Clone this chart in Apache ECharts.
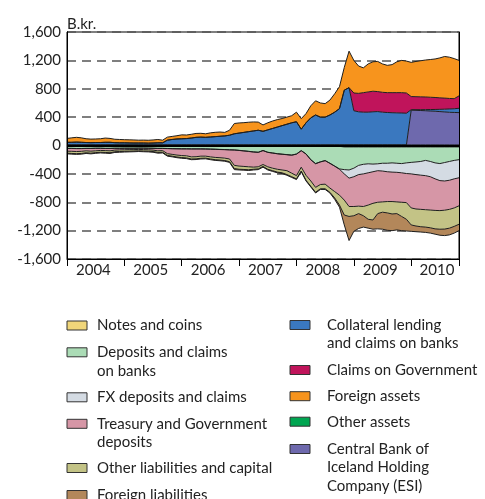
<!DOCTYPE html>
<html><head><meta charset="utf-8">
<script src="https://cdn.jsdelivr.net/npm/echarts@6/dist/echarts.min.js"></script>
<style>html,body{margin:0;padding:0;background:#fff}#c{width:485px;height:499px}</style>
</head><body><div id="c"></div>
<script>
// ---- categories (monthly, Jan 2004 .. Nov 2010) ----
const startYear = 2004;
const monthCount = 83;
const months = [];
for (let i = 0; i < monthCount; i++) months.push(startYear + i / 12);
const yearTicks = [2004, 2005, 2006, 2007, 2008, 2009, 2010, startYear + (monthCount - 1) / 12];
const yearLabelPos = [2004.46, 2005.46, 2006.46, 2007.46, 2008.46, 2009.46, 2010.45];
const yMin = -1600, yMax = 1600, yStep = 400;

// ---- liabilities (negative stack, from zero downwards) ----
const notesCoins = [
-12,-12,-12,-12,-12,-12,-12,-12,-12,-12,
-12,-12,-12,-12,-12,-12,-12,-12,-12,-12,
-12,-12,-12,-12,-12,-12,-12,-12,-12,-12,
-12,-12,-12,-12,-12,-12,-12,-12,-12,-12,
-12,-12,-12,-12,-12,-12,-12,-12,-12,-12,
-12,-12,-12,-12,-12,-12,-12,-12,-20,-20,
-20,-20,-20,-20,-20,-20,-20,-20,-20,-20,
-20,-20,-20,-20,-20,-20,-20,-20,-20,-20,
-20,-20,-20];
const depositsBanks = [
-28,-28,-30,-30,-28,-28,-26,-26,-28,-28,
-26,-26,-25,-25,-25,-24,-24,-25,-26,-28,
-28,-30,-32,-33,-34,-34,-35,-35,-35,-36,
-38,-40,-43,-45,-48,-50,-56,-63,-70,-78,
-83,-58,-83,-93,-103,-110,-116,-123,-108,-60,
-106,-188,-243,-218,-200,-238,-278,-318,-320,-325,
-300,-260,-245,-238,-242,-238,-230,-230,-225,-230,
-235,-225,-218,-212,-205,-190,-205,-225,-235,-220,
-205,-190,-180];
const fxDeposits = [
-2,-2,-2,-2,-2,-2,-2,-2,-2,-2,
-2,-2,-2,-2,-2,-2,-2,-2,-2,-2,
-2,-2,-2,-2,-2,-2,-2,-2,-2,-2,
-2,-2,-2,-2,-2,-2,-2,-2,-2,-2,
-2,-2,-2,-2,-2,-2,-2,-2,-2,-2,
-2,-2,-2,-2,-2,-2,-2,-5,-60,-115,
-120,-130,-135,-127,-108,-97,-110,-120,-130,-128,
-130,-150,-162,-178,-193,-215,-215,-225,-240,-260,
-265,-260,-255];
const treasuryDeposits = [
-38,-40,-41,-38,-33,-38,-35,-30,-30,-33,
-25,-22,-21,-19,-19,-17,-20,-21,-25,-33,
-30,-71,-79,-88,-94,-97,-111,-109,-101,-100,
-108,-114,-115,-119,-128,-216,-220,-218,-216,-213,
-203,-196,-203,-213,-218,-221,-225,-253,-303,-232,
-300,-298,-333,-318,-331,-348,-358,-365,-370,-400,
-420,-445,-460,-455,-445,-445,-435,-420,-415,-417,
-415,-410,-480,-485,-482,-480,-470,-445,-423,-412,
-410,-410,-395];
const otherLiabilities = [
-28,-30,-30,-30,-27,-28,-25,-25,-26,-27,
-23,-23,-22,-22,-20,-20,-20,-20,-20,-23,
-23,-25,-25,-27,-28,-30,-30,-30,-30,-28,
-30,-32,-33,-34,-38,-45,-45,-43,-42,-30,
-30,-27,-35,-35,-40,-40,-55,-50,-45,-54,
-70,-75,-70,-60,-65,-60,-90,-140,-210,-140,
-130,-105,-130,-200,-235,-160,-145,-160,-175,-165,
-200,-235,-240,-240,-245,-245,-250,-260,-262,-266,
-265,-260,-260];
const foreignLiabilities = [
-10,-10,-10,-10,-10,-10,-10,-10,-10,-10,
-10,-10,-10,-10,-10,-10,-10,-10,-10,-10,
-10,-10,-10,-10,-10,-10,-10,-10,-10,-10,
-10,-10,-10,-10,-10,-15,-10,-10,-10,-10,
-10,-10,-10,-10,-10,-10,-10,-10,-10,-10,
-10,-10,-10,-10,-10,-10,-20,-30,-140,-340,
-220,-210,-160,-125,-130,-215,-240,-245,-235,-230,
-200,-165,-90,-80,-75,-75,-75,-75,-85,-92,
-95,-95,-90];

// ---- assets (positive stack, from zero upwards) ----
const otherAssets = [
8,8,8,8,8,8,8,8,8,8, 8,8,8,8,8,8,8,8,8,8,
8,8,8,8,8,8,8,8,8,8, 8,8,8,8,8,8,8,8,8,8,
8,8,8,8,8,8,8,8,8,8, 8,8,8,8,8,8,8,8,8,8,
8,8,8,8,8,8,8,8,8,8, 8,8,8,8,8,8,8,8,8,8,
8,8,8];
const esiHolding = [
0,0,0,0,0,0,0,0,0,0, 0,0,0,0,0,0,0,0,0,0,
0,0,0,0,0,0,0,0,0,0, 0,0,0,0,0,0,0,0,0,0,
0,0,0,0,0,0,0,0,0,0, 0,0,0,0,0,0,0,0,0,0,
0,0,0,0,0,0,0,0,0,0, 0,0,490,488,485,482,478,475,470,465,
460,458,455];
const collateralLending = [
37,37,40,37,34,32,34,34,37,37,
32,30,30,28,27,27,27,25,27,30,
30,67,77,84,87,90,97,107,110,107,
112,117,122,127,137,157,167,177,187,197,
207,192,212,232,252,272,292,312,327,222,
312,382,422,392,392,422,462,512,772,807,
482,467,462,462,467,470,462,457,454,452,
450,447,7,9,12,16,21,25,32,39,
47,52,62];
const claimsGovernment = [
0,0,0,0,0,0,0,0,0,0, 0,0,0,0,0,0,0,0,0,0,
0,0,0,0,0,0,0,0,0,0, 0,0,0,0,0,0,0,0,0,0,
0,0,0,0,0,0,0,0,0,0, 0,0,0,0,0,0,0,0,0,0,
250,260,275,285,290,282,280,280,283,285,
287,285,185,183,181,178,173,169,162,156,
148,142,175];
const foreignAssets = [
55,63,67,63,53,50,50,53,60,55,
48,47,44,44,43,40,41,41,43,47,
37,43,43,46,55,50,53,55,54,50,
58,61,60,50,70,145,143,137,133,127,
115,90,100,105,105,100,100,100,135,148,
130,170,200,200,190,210,260,310,320,515,
460,385,350,395,415,425,400,385,395,435,
455,450,482,497,509,521,532,543,563,587,
582,565,500];

const FONT = 'Lato';
const TXT = '#222';

const seriesDefs = [
  {name: 'Other assets', data: otherAssets, color: '#00a651', stack: 'assets'},
  {name: 'Central Bank of Iceland Holding Company (ESI)', data: esiHolding, color: '#6e69ad', stack: 'assets'},
  {name: 'Collateral lending and claims on banks', data: collateralLending, color: '#3a78bf', stack: 'assets'},
  {name: 'Claims on Government', data: claimsGovernment, color: '#c0145b', stack: 'assets'},
  {name: 'Foreign assets', data: foreignAssets, color: '#f7941d', stack: 'assets'},
  {name: 'Notes and coins', data: notesCoins, color: '#f0d67a', stack: 'liab'},
  {name: 'Deposits and claims on banks', data: depositsBanks, color: '#abdcb6', stack: 'liab'},
  {name: 'FX deposits and claims', data: fxDeposits, color: '#d4dbe3', stack: 'liab'},
  {name: 'Treasury and Government deposits', data: treasuryDeposits, color: '#d696a6', stack: 'liab'},
  {name: 'Other liabilities and capital', data: otherLiabilities, color: '#c3c386', stack: 'liab'},
  {name: 'Foreign liabilities', data: foreignLiabilities, color: '#b3875a', stack: 'liab'}
];
const colorOf = {};
seriesDefs.forEach(s => colorOf[s.name] = s.color);

// value first, month second: the stacked dimension must be the y value
const series = seriesDefs.map((s, k) => ({
  name: s.name, type: 'line', stack: s.stack,
  dimensions: ['value', 'month'],
  encode: {x: 'month', y: 'value'},
  data: months.map((m, i) => [s.data[i], m]),
  showSymbol: false, symbol: 'none', smooth: false,
  lineStyle: {color: '#1e1e1e', width: 1},
  itemStyle: {color: s.color},
  areaStyle: {color: s.color, opacity: 1},
  silent: true,
  markLine: k === seriesDefs.length - 1 ? {
    silent: true, symbol: 'none', z: 6,
    label: {show: false},
    lineStyle: {color: '#000', width: 2, type: 'solid'},
    data: [{yAxis: 0}]
  } : undefined
}));

const LH = 18.5;
function legendItem(name, lines, iconLeft, iconCenterY, gap) {
  // extra empty lines above so the first text line sits level with the icon
  const spacer = '\n'.repeat(lines.length - 1);
  const blockH = (2 * lines.length - 1) * LH;
  return {
    show: true, left: iconLeft, top: iconCenterY - blockH / 2, padding: 0,
    orient: 'horizontal', itemWidth: 20, itemHeight: 9, icon: 'rect',
    selectedMode: false,
    itemStyle: {borderColor: '#333', borderWidth: 1},
    textStyle: {fontFamily: FONT, fontSize: 15, color: TXT, lineHeight: LH, padding: [0, 0, 0, gap]},
    formatter: spacer + lines.join('\n'),
    data: [{name: name, itemStyle: {color: colorOf[name]}}]
  };
}
const legends = [
  legendItem('Notes and coins', ['Notes and coins'], 66.5, 325.5, 5),
  legendItem('Deposits and claims on banks', ['Deposits and claims', 'on banks'], 66.5, 352.3, 5),
  legendItem('FX deposits and claims', ['FX deposits and claims'], 66.5, 397.3, 5),
  legendItem('Treasury and Government deposits', ['Treasury and Government', 'deposits'], 66.5, 423.8, 5),
  legendItem('Other liabilities and capital', ['Other liabilities and capital'], 66.5, 468, 5),
  legendItem('Foreign liabilities', ['Foreign liabilities'], 66.5, 495, 5),
  legendItem('Collateral lending and claims on banks', ['Collateral lending', 'and claims on banks'], 289.5, 325, 12),
  legendItem('Claims on Government', ['Claims on Government'], 289.5, 370, 12),
  legendItem('Foreign assets', ['Foreign assets'], 289.5, 396.2, 12),
  legendItem('Other assets', ['Other assets'], 289.5, 421.7, 12),
  legendItem('Central Bank of Iceland Holding Company (ESI)', ['Central Bank of', 'Iceland Holding', 'Company (ESI)'], 289.5, 449, 12)
];

function fmt(v) {
  const s = String(Math.abs(v)).replace(/\B(?=(\d{3})+(?!\d))/g, ',');
  return (v < 0 ? '-' : '') + s;
}

const chart = echarts.init(document.getElementById('c'), null, {renderer: 'canvas'});
chart.setOption({
  animation: false,
  backgroundColor: '#fff',
  textStyle: {fontFamily: FONT},
  grid: {left: 67, right: 26, top: 32, bottom: 240, show: true, borderColor: '#000', borderWidth: 1, backgroundColor: 'transparent'},
  legend: legends,
  xAxis: {
    type: 'value', min: startYear, max: startYear + (monthCount - 1) / 12,
    axisLine: {onZero: false, lineStyle: {color: '#000', width: 1}},
    axisTick: {show: true, length: 7, customValues: yearTicks, lineStyle: {color: '#000', width: 1}},
    axisLabel: {customValues: yearLabelPos, formatter: v => String(Math.floor(v + 0.001)), fontSize: 15, color: TXT, margin: 4, fontFamily: FONT},
    splitLine: {show: false}
  },
  yAxis: [{
    type: 'value', min: yMin, max: yMax, interval: yStep,
    name: 'B.kr.', nameLocation: 'end', nameGap: 0,
    nameTextStyle: {align: 'left', fontSize: 15, color: TXT, fontFamily: FONT},
    axisLine: {show: true, onZero: false, lineStyle: {color: '#000', width: 1}},
    axisTick: {show: false},
    axisLabel: {formatter: fmt, fontSize: 15, color: TXT, margin: 6, fontFamily: FONT},
    splitLine: {show: true, lineStyle: {type: [9, 6], color: '#555', width: 1.5}}
  }, {
    type: 'value', min: yMin, max: yMax, interval: yStep, position: 'right', z: 10,
    axisLine: {show: true, onZero: false, lineStyle: {color: '#000', width: 1}},
    axisTick: {show: false}, axisLabel: {show: false}, splitLine: {show: false}
  }, {
    type: 'value', min: yMin, max: yMax, interval: yStep, position: 'left', z: 10,
    axisLine: {show: true, onZero: false, lineStyle: {color: '#000', width: 1}},
    axisTick: {show: false}, axisLabel: {show: false}, splitLine: {show: false}
  }],
  series: series
});
</script>
</body></html>
